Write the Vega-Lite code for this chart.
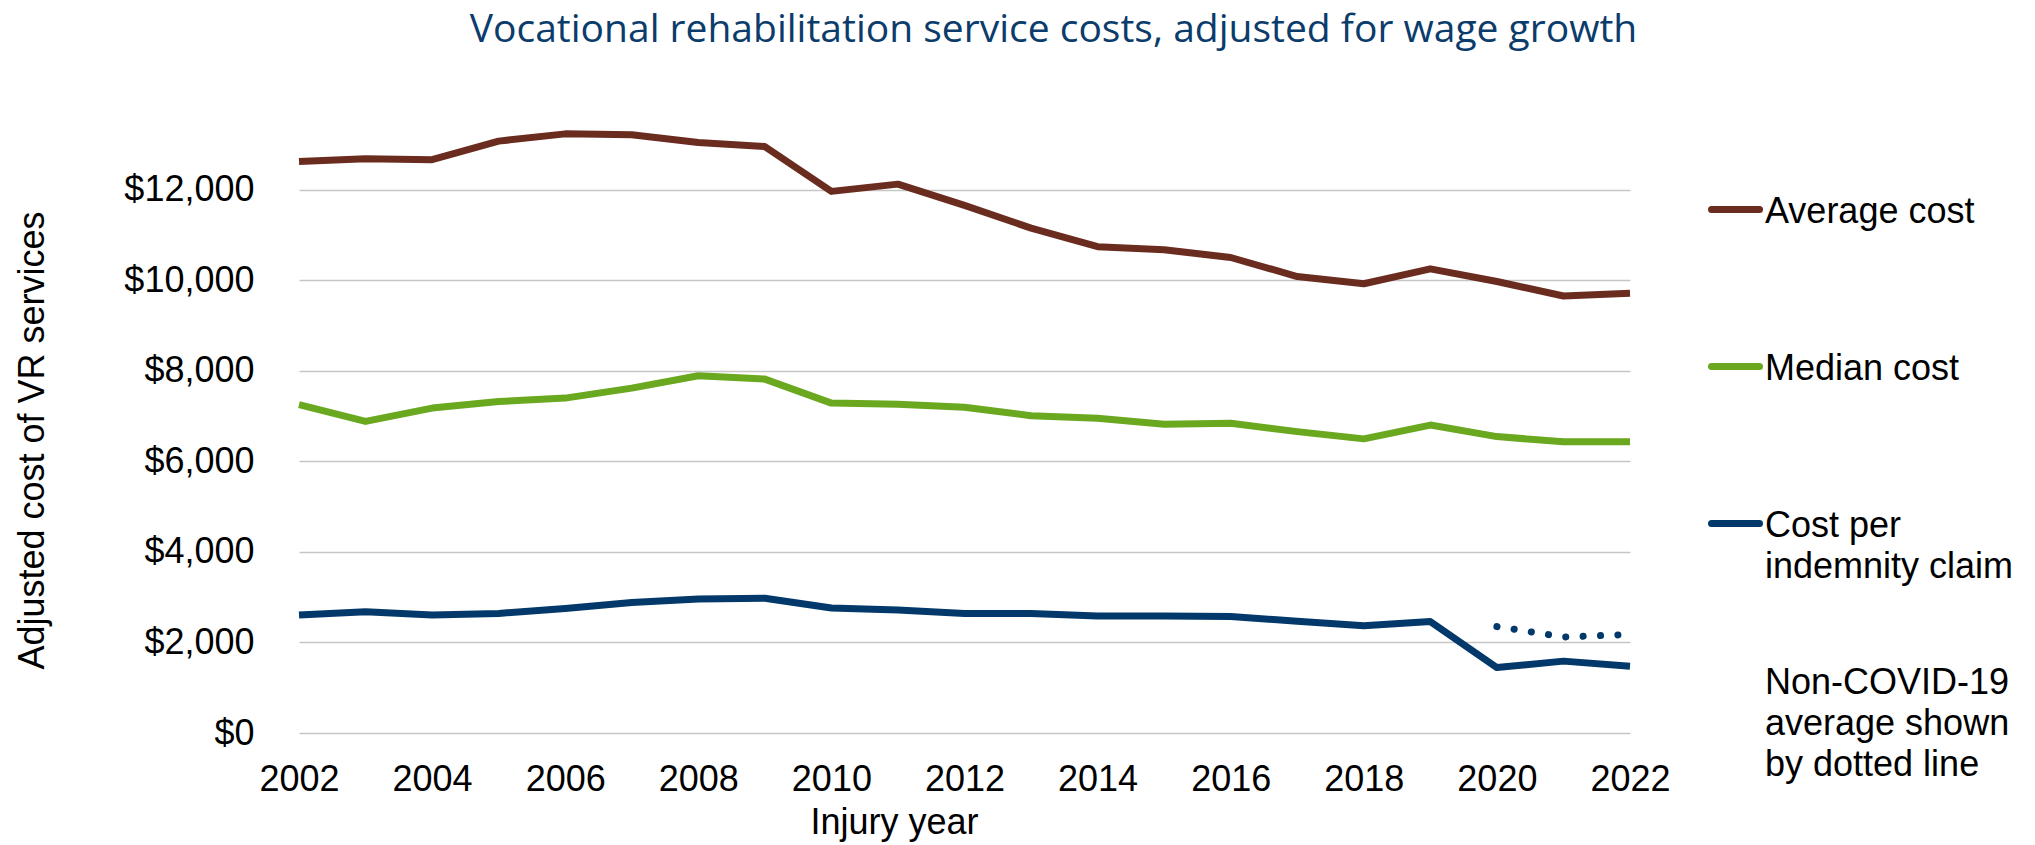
{
  "$schema": "https://vega.github.io/schema/vega-lite/v6.json",
  "width": 1331,
  "height": 634,
  "autosize": {"type": "none"},
  "padding": {"left": 299, "top": 99, "right": 405, "bottom": 112},
  "background": "white",
  "title": {
    "text": "Vocational rehabilitation service costs, adjusted for wage growth",
    "font": "Open Sans",
    "fontSize": 39,
    "fontWeight": "normal",
    "color": "#0B3C6B",
    "anchor": "middle",
    "baseline": "alphabetic",
    "offset": 18,
    "dx": 89
  },
  "data": {
    "values": [
      {"year": 2002, "series": "Average cost", "value": 12620},
      {"year": 2003, "series": "Average cost", "value": 12680},
      {"year": 2004, "series": "Average cost", "value": 12660},
      {"year": 2005, "series": "Average cost", "value": 13070},
      {"year": 2006, "series": "Average cost", "value": 13230},
      {"year": 2007, "series": "Average cost", "value": 13210},
      {"year": 2008, "series": "Average cost", "value": 13040},
      {"year": 2009, "series": "Average cost", "value": 12950},
      {"year": 2010, "series": "Average cost", "value": 11960},
      {"year": 2011, "series": "Average cost", "value": 12120},
      {"year": 2012, "series": "Average cost", "value": 11650},
      {"year": 2013, "series": "Average cost", "value": 11150},
      {"year": 2014, "series": "Average cost", "value": 10740},
      {"year": 2015, "series": "Average cost", "value": 10670},
      {"year": 2016, "series": "Average cost", "value": 10500},
      {"year": 2017, "series": "Average cost", "value": 10080},
      {"year": 2018, "series": "Average cost", "value": 9920},
      {"year": 2019, "series": "Average cost", "value": 10250},
      {"year": 2020, "series": "Average cost", "value": 9970},
      {"year": 2021, "series": "Average cost", "value": 9650},
      {"year": 2022, "series": "Average cost", "value": 9710},
      {"year": 2002, "series": "Median cost", "value": 7250},
      {"year": 2003, "series": "Median cost", "value": 6880},
      {"year": 2004, "series": "Median cost", "value": 7175},
      {"year": 2005, "series": "Median cost", "value": 7320},
      {"year": 2006, "series": "Median cost", "value": 7395},
      {"year": 2007, "series": "Median cost", "value": 7615},
      {"year": 2008, "series": "Median cost", "value": 7890},
      {"year": 2009, "series": "Median cost", "value": 7815},
      {"year": 2010, "series": "Median cost", "value": 7285},
      {"year": 2011, "series": "Median cost", "value": 7260},
      {"year": 2012, "series": "Median cost", "value": 7195},
      {"year": 2013, "series": "Median cost", "value": 7005},
      {"year": 2014, "series": "Median cost", "value": 6950},
      {"year": 2015, "series": "Median cost", "value": 6820},
      {"year": 2016, "series": "Median cost", "value": 6840},
      {"year": 2017, "series": "Median cost", "value": 6655},
      {"year": 2018, "series": "Median cost", "value": 6495},
      {"year": 2019, "series": "Median cost", "value": 6800},
      {"year": 2020, "series": "Median cost", "value": 6545},
      {"year": 2021, "series": "Median cost", "value": 6430},
      {"year": 2022, "series": "Median cost", "value": 6430},
      {"year": 2002, "series": "Cost per indemnity claim", "value": 2605},
      {"year": 2003, "series": "Cost per indemnity claim", "value": 2680},
      {"year": 2004, "series": "Cost per indemnity claim", "value": 2605},
      {"year": 2005, "series": "Cost per indemnity claim", "value": 2640},
      {"year": 2006, "series": "Cost per indemnity claim", "value": 2750},
      {"year": 2007, "series": "Cost per indemnity claim", "value": 2880},
      {"year": 2008, "series": "Cost per indemnity claim", "value": 2960},
      {"year": 2009, "series": "Cost per indemnity claim", "value": 2975},
      {"year": 2010, "series": "Cost per indemnity claim", "value": 2760},
      {"year": 2011, "series": "Cost per indemnity claim", "value": 2715},
      {"year": 2012, "series": "Cost per indemnity claim", "value": 2640},
      {"year": 2013, "series": "Cost per indemnity claim", "value": 2640},
      {"year": 2014, "series": "Cost per indemnity claim", "value": 2585},
      {"year": 2015, "series": "Cost per indemnity claim", "value": 2585},
      {"year": 2016, "series": "Cost per indemnity claim", "value": 2570},
      {"year": 2017, "series": "Cost per indemnity claim", "value": 2470},
      {"year": 2018, "series": "Cost per indemnity claim", "value": 2370},
      {"year": 2019, "series": "Cost per indemnity claim", "value": 2460},
      {"year": 2020, "series": "Cost per indemnity claim", "value": 1446},
      {"year": 2021, "series": "Cost per indemnity claim", "value": 1587},
      {"year": 2022, "series": "Cost per indemnity claim", "value": 1476},
      {"year": 2020, "series": "Non-COVID-19 average shown by dotted line", "value": 2350},
      {"year": 2021, "series": "Non-COVID-19 average shown by dotted line", "value": 2120},
      {"year": 2022, "series": "Non-COVID-19 average shown by dotted line", "value": 2175}
    ]
  },
  "encoding": {
    "x": {
      "field": "year",
      "type": "quantitative",
      "scale": {"domain": [2002, 2022], "nice": false, "zero": false},
      "axis": {
        "title": "Injury year",
        "values": [2002, 2004, 2006, 2008, 2010, 2012, 2014, 2016, 2018, 2020, 2022],
        "format": "d",
        "grid": false,
        "domain": false,
        "ticks": false,
        "tickSize": 0,
        "labelFont": "Liberation Sans",
        "labelFontSize": 36,
        "labelColor": "#000000",
        "labelBaseline": "alphabetic",
        "labelPadding": 57,
        "labelFlush": false,
        "labelOverlap": false,
        "titleFont": "Liberation Sans",
        "titleFontSize": 36,
        "titleFontWeight": "normal",
        "titleColor": "#000000",
        "titleAlign": "center",
        "titleBaseline": "alphabetic",
        "titleX": 595,
        "titleY": 100
      }
    },
    "y": {
      "field": "value",
      "type": "quantitative",
      "scale": {"domain": [0, 14000], "nice": false},
      "axis": {
        "title": "Adjusted cost of VR services",
        "values": [0, 2000, 4000, 6000, 8000, 10000, 12000],
        "format": "$,.0f",
        "grid": true,
        "gridColor": "#C6C6C6",
        "gridWidth": 1.5,
        "domain": false,
        "ticks": false,
        "tickSize": 0,
        "labelFont": "Liberation Sans",
        "labelFontSize": 36,
        "labelColor": "#000000",
        "labelPadding": 45,
        "labelBaseline": "middle",
        "titleFont": "Liberation Sans",
        "titleFontSize": 36,
        "titleFontWeight": "normal",
        "titleColor": "#000000",
        "titleAngle": 270,
        "titleAlign": "center",
        "titleBaseline": "alphabetic",
        "titleX": -256,
        "titleY": 341
      }
    },
    "color": {
      "field": "series",
      "type": "nominal",
      "scale": {
        "domain": ["Average cost", "Median cost", "Cost per indemnity claim", "Non-COVID-19 average shown by dotted line"],
        "range": ["#6B2C20", "#6AA820", "#03396A", "#03396A"]
      },
      "legend": {
        "orient": "none",
        "legendX": 1409,
        "legendY": 83,
        "title": null,
        "padding": 0,
        "symbolType": "stroke",
        "symbolSize": 2304,
        "symbolStrokeWidth": 7,
        "labelFont": "Liberation Sans",
        "labelFontSize": 36,
        "labelColor": "#000000",
        "labelOffset": 2,
        "labelLimit": 0,
        "labelBaseline": "top",
        "gridAlign": "all",
        "rowPadding": 27,
        "labelExpr": "datum.label == 'Cost per indemnity claim' ? ['Cost per', 'indemnity claim'] : datum.label == 'Non-COVID-19 average shown by dotted line' ? ['Non-COVID-19', 'average shown', 'by dotted line'] : datum.label",
        "encode": {
          "symbols": {
            "update": {
              "strokeCap": {"value": "round"},
              "strokeDash": {"value": []},
              "opacity": {"signal": "datum.value == 'Non-COVID-19 average shown by dotted line' ? 0 : 1"}
            }
          },
          "labels": {
            "update": {
              "lineHeight": {"value": 41},
              "dy": {"value": -15}
            }
          }
        }
      }
    }
  },
  "layer": [
    {
      "transform": [{"filter": "datum.series != 'Non-COVID-19 average shown by dotted line'"}],
      "mark": {"type": "line", "strokeWidth": 7, "strokeJoin": "round", "strokeCap": "butt"}
    },
    {
      "transform": [{"filter": "datum.series == 'Non-COVID-19 average shown by dotted line'"}],
      "mark": {"type": "line", "strokeWidth": 7, "strokeCap": "round", "strokeDash": [0.1, 17.3]}
    }
  ],
  "config": {
    "view": {"stroke": null},
    "font": "Liberation Sans"
  }
}
